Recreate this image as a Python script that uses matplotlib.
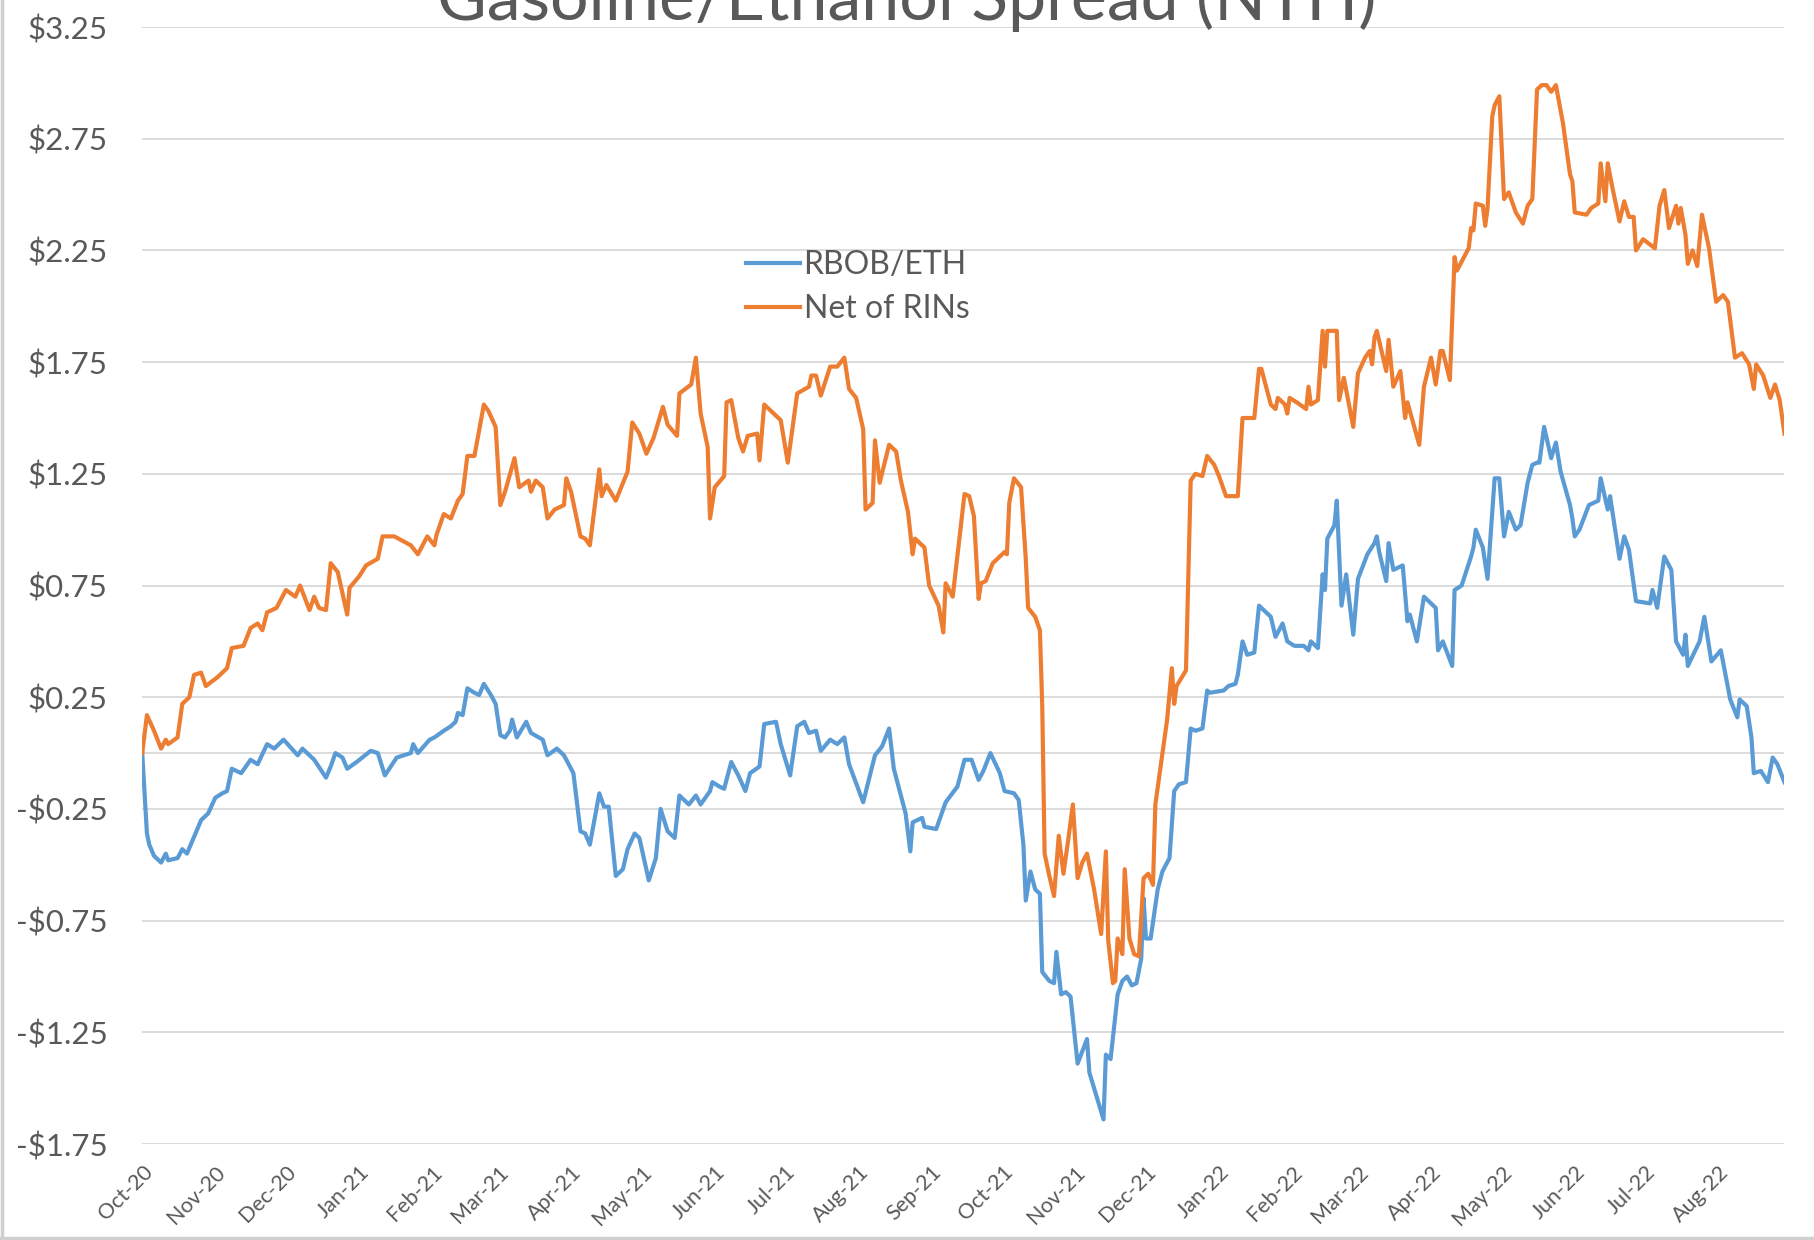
import numpy as np
import matplotlib
matplotlib.use("Agg")
import matplotlib.pyplot as plt
import matplotlib.dates as mdates
from matplotlib.ticker import FixedLocator, FuncFormatter
from matplotlib.lines import Line2D

plt.rcParams["font.family"] = ["Lato", "DejaVu Sans"]

# series start date; x values below are calendar days after it
START = np.datetime64("2020-10-01")
END_DAY = 697

rbob_day = [0, 2, 3, 5, 8, 10, 11, 15, 17, 19, 25, 28, 31, 34, 36, 38, 42, 46, 49, 53,
            56, 60, 66, 68, 73, 78, 80, 82, 85, 87, 91, 97, 100, 103, 108, 114, 115, 117,
            122, 124, 128, 131, 133, 134, 136, 138, 141, 143, 145, 148, 150, 152, 154, 156,
            157, 159, 163, 165, 170, 172, 176, 179, 183, 186, 188, 190, 194, 196, 198, 201,
            204, 206, 209, 211, 215, 218, 220, 223, 226, 228, 232, 235, 237, 241, 242, 245,
            247, 250, 253, 256, 258, 262, 264, 269, 271, 275, 278, 281, 283, 286, 288, 292,
            295, 298, 300, 306, 311, 314, 317, 319, 324, 326, 327, 331, 332, 337, 341, 346,
            349, 352, 355, 357, 360, 364, 366, 370, 372, 374, 375, 377, 379, 381, 382, 385,
            387, 388, 390, 392, 394, 397, 401, 402, 408, 409, 411, 414, 416, 418, 420, 422,
            424, 425, 426, 428, 431, 433, 436, 438, 440, 443, 445, 447, 450, 452, 453, 459,
            461, 464, 465, 467, 469, 472, 474, 479, 481, 484, 486, 489, 493, 495, 496, 499,
            501, 502, 503, 506, 507, 509, 511, 514, 516, 520, 523, 524, 525, 528, 529, 531,
            535, 537, 538, 541, 544, 549, 550, 552, 556, 557, 560, 564, 565, 566, 569, 571,
            574, 576, 578, 580, 583, 585, 588, 590, 592, 593, 595, 598, 600, 602, 606, 607,
            608, 610, 614, 618, 619, 622, 623, 627, 629, 631, 634, 640, 641, 643, 646, 649,
            651, 654, 655, 656, 661, 663, 666, 670, 674, 677, 678, 681, 683, 684, 687, 690,
            692, 694, 697]
rbob_val = [0.00, -0.36, -0.41, -0.46, -0.49, -0.45, -0.48, -0.47, -0.43, -0.45, -0.30, -0.27,
            -0.20, -0.18, -0.17, -0.07, -0.09, -0.03, -0.05, 0.04, 0.02, 0.06, -0.01, 0.02,
            -0.03, -0.11, -0.06, 0.00, -0.02, -0.07, -0.04, 0.01, 0.00, -0.10, -0.02, 0.00,
            0.04, 0.00, 0.06, 0.07, 0.10, 0.12, 0.14, 0.18, 0.17, 0.29, 0.27, 0.26, 0.31,
            0.26, 0.22, 0.08, 0.07, 0.10, 0.15, 0.07, 0.14, 0.09, 0.06, -0.01, 0.02, -0.01,
            -0.09, -0.35, -0.36, -0.41, -0.18, -0.24, -0.24, -0.55, -0.52, -0.43, -0.36,
            -0.38, -0.57, -0.47, -0.25, -0.35, -0.38, -0.19, -0.23, -0.19, -0.23, -0.17,
            -0.13, -0.15, -0.16, -0.04, -0.10, -0.17, -0.09, -0.06, 0.13, 0.14, 0.04, -0.10,
            0.12, 0.14, 0.09, 0.10, 0.01, 0.06, 0.04, 0.07, -0.05, -0.22, -0.01, 0.03, 0.11,
            -0.07, -0.27, -0.44, -0.31, -0.29, -0.33, -0.34, -0.22, -0.15, -0.03, -0.03,
            -0.12, -0.08, 0.00, -0.09, -0.17, -0.18, -0.21, -0.41, -0.66, -0.53, -0.61, -0.63,
            -0.98, -1.02, -1.03, -0.89, -1.08, -1.07, -1.09, -1.39, -1.28, -1.43, -1.64,
            -1.35, -1.37, -1.08, -1.02, -1.00, -1.04, -1.03, -0.92, -0.65, -0.83, -0.83,
            -0.61, -0.53, -0.47, -0.17, -0.14, -0.13, 0.11, 0.10, 0.11, 0.28, 0.27, 0.28,
            0.30, 0.31, 0.35, 0.50, 0.44, 0.45, 0.66, 0.61, 0.52, 0.58, 0.50, 0.48, 0.48,
            0.46, 0.50, 0.47, 0.80, 0.73, 0.96, 1.02, 1.13, 0.66, 0.80, 0.53, 0.78, 0.89,
            0.94, 0.97, 0.90, 0.77, 0.94, 0.82, 0.84, 0.59, 0.62, 0.50, 0.70, 0.65, 0.46,
            0.50, 0.39, 0.73, 0.75, 0.88, 0.92, 1.00, 0.92, 0.78, 1.23, 1.23, 0.97, 1.08,
            1.00, 1.02, 1.21, 1.29, 1.30, 1.30, 1.46, 1.32, 1.39, 1.26, 1.11, 1.05, 0.97,
            1.00, 1.11, 1.13, 1.23, 1.09, 1.15, 0.87, 0.97, 0.91, 0.68, 0.67, 0.73, 0.65,
            0.88, 0.82, 0.50, 0.44, 0.53, 0.39, 0.50, 0.61, 0.41, 0.46, 0.24, 0.16, 0.24,
            0.21, 0.07, -0.09, -0.08, -0.13, -0.02, -0.05, -0.13]

net_day = [0, 2, 5, 8, 10, 11, 15, 17, 20, 22, 25, 27, 32, 36, 38, 43, 46, 49, 51, 53,
           57, 61, 65, 67, 71, 73, 75, 78, 80, 83, 87, 88, 92, 95, 100, 102, 107, 114, 117,
           121, 124, 125, 128, 131, 134, 136, 138, 141, 145, 147, 150, 152, 154, 158, 160,
           164, 165, 167, 170, 172, 175, 179, 180, 182, 186, 188, 190, 194, 195, 197, 201,
           206, 208, 211, 214, 217, 221, 223, 227, 228, 233, 235, 237, 240, 241, 243, 247,
           248, 250, 253, 255, 257, 261, 262, 264, 267, 271, 274, 278, 283, 284, 286, 288,
           292, 295, 298, 300, 303, 306, 307, 310, 311, 313, 317, 320, 322, 325, 327, 328,
           332, 334, 338, 340, 341, 344, 349, 351, 353, 355, 356, 358, 361, 363, 366, 367,
           368, 370, 373, 375, 376, 379, 381, 382, 383, 385, 387, 389, 391, 393, 395, 397,
           399, 401, 404, 407, 409, 410, 412, 413, 414, 416, 417, 419, 421, 423, 425, 427,
           429, 430, 435, 437, 438, 439, 443, 445, 447, 450, 452, 455, 457, 460, 465, 467,
           472, 474, 475, 479, 481, 482, 485, 486, 487, 490, 494, 495, 496, 499, 501, 502,
           503, 507, 508, 510, 514, 516, 519, 521, 522, 523, 524, 526, 528, 529, 531, 534,
           536, 537, 542, 544, 547, 549, 551, 552, 555, 557, 558, 560, 563, 564, 565, 566,
           569, 570, 571, 573, 574, 576, 578, 580, 583, 586, 588, 590, 592, 594, 596, 598,
           600, 603, 606, 607, 608, 613, 615, 618, 619, 621, 622, 624, 627, 629, 631, 633,
           634, 637, 642, 644, 646, 648, 651, 652, 653, 655, 656, 658, 660, 662, 665, 668,
           671, 673, 676, 679, 682, 684, 685, 688, 691, 693, 695, 697]
net_val = [0.00, 0.17, 0.10, 0.02, 0.06, 0.04, 0.07, 0.22, 0.25, 0.35, 0.36, 0.30, 0.34,
           0.38, 0.47, 0.48, 0.56, 0.58, 0.55, 0.63, 0.65, 0.73, 0.70, 0.75, 0.64, 0.70,
           0.65, 0.64, 0.85, 0.81, 0.62, 0.74, 0.79, 0.84, 0.87, 0.97, 0.97, 0.93, 0.89,
           0.97, 0.93, 0.98, 1.07, 1.05, 1.13, 1.16, 1.33, 1.33, 1.56, 1.53, 1.46, 1.11,
           1.17, 1.32, 1.19, 1.22, 1.17, 1.22, 1.19, 1.05, 1.09, 1.11, 1.23, 1.17, 0.97,
           0.96, 0.93, 1.27, 1.15, 1.20, 1.13, 1.26, 1.48, 1.43, 1.34, 1.41, 1.55, 1.47,
           1.42, 1.61, 1.65, 1.77, 1.52, 1.37, 1.05, 1.19, 1.24, 1.57, 1.58, 1.41, 1.35,
           1.42, 1.43, 1.31, 1.56, 1.53, 1.49, 1.30, 1.61, 1.64, 1.69, 1.69, 1.60, 1.73,
           1.73, 1.77, 1.63, 1.59, 1.45, 1.09, 1.12, 1.40, 1.21, 1.38, 1.35, 1.22, 1.08,
           0.89, 0.96, 0.92, 0.75, 0.66, 0.54, 0.76, 0.70, 1.16, 1.15, 1.06, 0.69, 0.76,
           0.77, 0.85, 0.87, 0.90, 0.89, 1.12, 1.23, 1.19, 0.87, 0.65, 0.61, 0.55, 0.21,
           -0.45, -0.55, -0.64, -0.37, -0.54, -0.39, -0.23, -0.56, -0.49, -0.45, -0.61,
           -0.81, -0.44, -0.84, -1.03, -1.02, -0.83, -0.90, -0.52, -0.83, -0.90, -0.91,
           -0.56, -0.54, -0.59, -0.23, 0.15, 0.38, 0.22, 0.30, 0.37, 1.22, 1.25, 1.24,
           1.33, 1.29, 1.24, 1.15, 1.15, 1.50, 1.50, 1.72, 1.72, 1.56, 1.54, 1.59, 1.56,
           1.52, 1.59, 1.57, 1.54, 1.64, 1.56, 1.58, 1.89, 1.73, 1.89, 1.89, 1.58, 1.68,
           1.46, 1.70, 1.77, 1.80, 1.74, 1.86, 1.89, 1.80, 1.71, 1.85, 1.64, 1.71, 1.50,
           1.57, 1.38, 1.64, 1.77, 1.65, 1.80, 1.80, 1.67, 2.22, 2.16, 2.20, 2.26, 2.35,
           2.34, 2.46, 2.45, 2.36, 2.44, 2.85, 2.90, 2.94, 2.48, 2.51, 2.42, 2.37, 2.45,
           2.48, 2.97, 2.99, 2.99, 2.96, 2.99, 2.82, 2.59, 2.56, 2.42, 2.41, 2.44, 2.46,
           2.64, 2.47, 2.64, 2.53, 2.38, 2.47, 2.40, 2.40, 2.25, 2.30, 2.26, 2.45, 2.52,
           2.35, 2.45, 2.37, 2.44, 2.32, 2.19, 2.25, 2.18, 2.41, 2.26, 2.02, 2.05, 2.02,
           1.77, 1.79, 1.74, 1.63, 1.74, 1.69, 1.59, 1.65, 1.58, 1.43]

Y_TICKS = np.arange(-1.75, 3.26, 0.5)

BLUE = "#5B9BD5"
ORANGE = "#ED7D31"
GRID = "#D9D9D9"
TEXT = "#595959"


def to_dates(days):
    return START + np.asarray(days).astype("timedelta64[D]")


def money(v, _pos=None):
    return f"-${abs(v):.2f}" if v < 0 else f"${v:.2f}"


fig = plt.figure(figsize=(18.14, 12.40), dpi=100, facecolor="white")
ax = fig.add_axes([0.0784, 0.0774, 0.9053, 0.9008])

ax.plot(to_dates(rbob_day), rbob_val, color=BLUE, lw=3.0, label="RBOB/ETH",
        solid_joinstyle="round", zorder=3)
ax.plot(to_dates(net_day), net_val, color=ORANGE, lw=3.0, label="Net of RINs",
        solid_joinstyle="round", zorder=3)

ax.set_ylim(-1.75, 3.25)
ax.set_xlim(START, START + np.timedelta64(END_DAY, "D"))
ax.yaxis.set_major_locator(FixedLocator(Y_TICKS))
ax.yaxis.set_major_formatter(FuncFormatter(money))
ax.xaxis.set_major_locator(mdates.MonthLocator())
ax.xaxis.set_major_formatter(mdates.DateFormatter("%b-%y"))

ax.grid(axis="y", color=GRID, lw=1.3)
ax.axhline(0, color=GRID, lw=1.3, zorder=1)
ax.set_axisbelow(True)
for side in ax.spines.values():
    side.set_visible(False)

ax.tick_params(axis="y", length=0, pad=25, labelsize=22.5, labelcolor=TEXT)
ax.tick_params(axis="x", length=0, pad=13, labelsize=15.5, labelcolor=TEXT)
for lbl in ax.get_xticklabels():
    lbl.set_rotation(45)
    lbl.set_ha("right")
    lbl.set_va("top")
    lbl.set_rotation_mode("anchor")

leg = ax.legend(loc="upper left", bbox_to_anchor=(746 / 1814, 1 - 250 / 1240),
                bbox_transform=fig.transFigure, frameon=False, fontsize=23,
                handlelength=1.7, handletextpad=0.1, labelspacing=0.45,
                borderpad=0, borderaxespad=0)
for t in leg.get_texts():
    t.set_color(TEXT)

fig.text(0.5, 1 - 20 / 1240, "Gasoline/Ethanol Spread (NTH)", ha="center",
         va="baseline", fontsize=49, color=TEXT)

# chart-area border visible on the left and bottom edges
fig.add_artist(Line2D([0.001, 0.001], [0, 1], transform=fig.transFigure,
                      color="#D0D0D0", lw=2.5))
fig.add_artist(Line2D([0, 1], [0.0015, 0.0015], transform=fig.transFigure,
                      color="#D0D0D0", lw=2.5))

fig.savefig("out.png", dpi=100, facecolor="white")
